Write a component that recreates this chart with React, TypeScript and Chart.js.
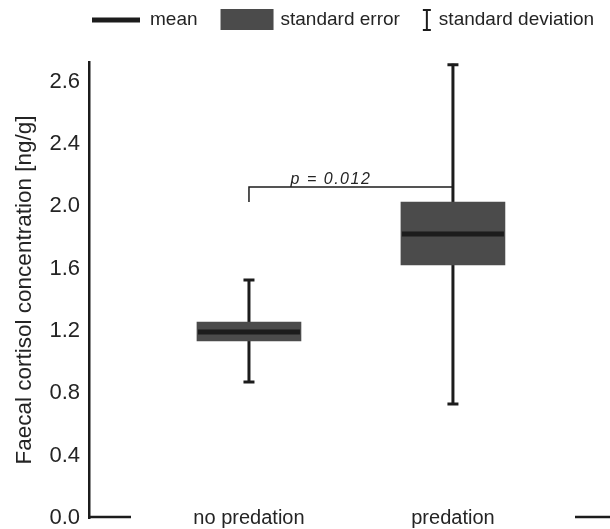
import React, { useEffect, useRef } from "react";
import { Chart, registerables } from "chart.js";
Chart.register(...registerables);

const categories = ["no predation", "predation"];
const categoryPositions = [1, 2];
const means = [1.194, 1.823];
const seLow = [1.136, 1.624];
const seHigh = [1.258, 2.028];
const sdLow = [0.867, 0.725];
const sdHigh = [1.534, 2.915];
const yTickValues = [0, 0.4, 0.8, 1.2, 1.6, 2.0, 2.4, 2.8];
const yTickLabels = ["0.0", "0.4", "0.8", "1.2", "1.6", "2.0", "2.4", "2.6"];
const legendLabels = ["mean", "standard error", "standard deviation"];
const pValueText = "p = 0.012";
const bracketLevel = 2.125;
const bracketLegEnd = 2.028;

const FONT = "'Liberation Sans', Arial, sans-serif";
const TEXT = "#242424";
const DARK = "#1c1c1c";
const BOX = "#4b4b4b";

const decorPlugin = {
  id: "decor",
  beforeDatasetsDraw(chart: any) {
    const ctx = chart.ctx;
    const xs = chart.scales.x;
    const ys = chart.scales.y;
    ctx.save();
    ctx.strokeStyle = DARK;
    ctx.lineWidth = 3;
    categoryPositions.forEach((xv, i) => {
      const x = xs.getPixelForValue(xv);
      const top = ys.getPixelForValue(sdHigh[i]);
      const bot = ys.getPixelForValue(sdLow[i]);
      ctx.beginPath();
      ctx.moveTo(x, top);
      ctx.lineTo(x, bot);
      ctx.stroke();
      ctx.beginPath();
      ctx.moveTo(x - 5.5, top + 1);
      ctx.lineTo(x + 5.5, top + 1);
      ctx.moveTo(x - 5.5, bot - 1);
      ctx.lineTo(x + 5.5, bot - 1);
      ctx.stroke();
    });
    // significance bracket
    const x1 = xs.getPixelForValue(categoryPositions[0]);
    const x2 = xs.getPixelForValue(categoryPositions[1]);
    const yb = ys.getPixelForValue(bracketLevel);
    const yl = ys.getPixelForValue(bracketLegEnd);
    ctx.lineWidth = 1.5;
    ctx.beginPath();
    ctx.moveTo(x1, yl);
    ctx.lineTo(x1, yb);
    ctx.lineTo(x2, yb);
    ctx.stroke();
    ctx.fillStyle = TEXT;
    ctx.font = `italic 16px ${FONT}`;
    (ctx as any).letterSpacing = "1.5px";
    ctx.textAlign = "center";
    ctx.textBaseline = "alphabetic";
    ctx.fillText(pValueText, (x1 + x2) / 2 - 20, yb - 3);
    ctx.restore();
  },
  afterDatasetsDraw(chart: any) {
    const ctx = chart.ctx;
    const xs = chart.scales.x;
    const ys = chart.scales.y;
    const area = chart.chartArea;
    ctx.save();
    ctx.fillStyle = DARK;
    categoryPositions.forEach((xv, i) => {
      const x = xs.getPixelForValue(xv);
      const y = ys.getPixelForValue(means[i]);
      ctx.fillRect(x - 51, y - 2.5, 102, 5);
    });
    // bottom axis fragments
    ctx.strokeStyle = DARK;
    ctx.lineWidth = 2.5;
    ctx.beginPath();
    ctx.moveTo(area.left, area.bottom - 1);
    ctx.lineTo(area.left + 42, area.bottom - 1);
    ctx.moveTo(area.right - 35, area.bottom - 1);
    ctx.lineTo(area.right, area.bottom - 1);
    ctx.stroke();
    // legend
    const cy = 20;
    ctx.font = `19px ${FONT}`;
    ctx.textBaseline = "middle";
    ctx.textAlign = "left";
    let x = 92;
    ctx.fillStyle = DARK;
    ctx.fillRect(x, cy - 2.5, 48, 5);
    x += 58;
    ctx.fillStyle = TEXT;
    ctx.fillText(legendLabels[0], x, cy);
    x += ctx.measureText(legendLabels[0]).width + 23;
    ctx.fillStyle = BOX;
    ctx.fillRect(x, 9, 53, 21);
    x += 60;
    ctx.fillStyle = TEXT;
    ctx.fillText(legendLabels[1], x, cy);
    x += ctx.measureText(legendLabels[1]).width + 23;
    ctx.strokeStyle = DARK;
    ctx.lineWidth = 2;
    ctx.beginPath();
    ctx.moveTo(x + 4, 9);
    ctx.lineTo(x + 4, 31);
    ctx.moveTo(x, 10);
    ctx.lineTo(x + 8, 10);
    ctx.moveTo(x, 30);
    ctx.lineTo(x + 8, 30);
    ctx.stroke();
    x += 16;
    ctx.fillStyle = TEXT;
    ctx.fillText(legendLabels[2], x, cy);
    ctx.restore();
  },
};

export default function App() {
  const ref = useRef<HTMLCanvasElement | null>(null);
  useEffect(() => {
    if (!ref.current) return;
    const chart = new Chart(ref.current, {
      type: "bar",
      data: {
        datasets: [
          {
            label: "standard error",
            data: categoryPositions.map((x, i) => ({ x, y: [seLow[i], seHigh[i]] })) as any,
            backgroundColor: BOX,
            borderWidth: 0,
            barThickness: 104,
          },
        ],
      },
      options: {
        animation: false,
        responsive: false,
        layout: { padding: { top: 62, left: 0, right: 0, bottom: 0 } },
        plugins: {
          legend: { display: false },
          tooltip: { enabled: false },
        },
        scales: {
          x: {
            type: "linear",
            min: 0.2157,
            max: 2.77,
            offset: false,
            grid: { display: false, drawTicks: false },
            border: { display: false },
            afterBuildTicks: (scale: any) => {
              scale.ticks = categoryPositions.map((v) => ({ value: v }));
            },
            afterFit: (scale: any) => {
              scale.height = 11;
              scale.paddingLeft = 0;
              scale.paddingRight = 0;
            },
            ticks: {
              autoSkip: false,
              maxRotation: 0,
              mirror: true,
              padding: -12.5,
              color: TEXT,
              font: { family: FONT, size: 20 },
              callback: (v: any) => categories[categoryPositions.indexOf(Number(v))] ?? "",
            },
          },
          y: {
            type: "linear",
            min: 0,
            max: 2.927,
            grid: { display: false, drawTicks: false },
            border: { display: true, color: DARK, width: 2.5 },
            afterBuildTicks: (scale: any) => {
              scale.ticks = yTickValues.map((v) => ({ value: v }));
            },
            afterFit: (scale: any) => {
              scale.width = 89;
              scale.paddingTop = 0;
              scale.paddingBottom = 0;
            },
            ticks: {
              padding: 9,
              color: TEXT,
              font: { family: FONT, size: 22 },
              callback: (_v: any, i: number) => yTickLabels[i],
            },
            title: {
              display: true,
              text: "Faecal cortisol concentration [ng/g]",
              color: TEXT,
              font: { family: FONT, size: 22.5 },
              padding: { top: 11, bottom: 0 },
            },
          },
        },
      },
      plugins: [decorPlugin],
    });
    return () => chart.destroy();
  }, []);
  return (
    <div style={{ position: "absolute", left: 0, top: 0, width: 610, height: 529, background: "#fff" }}>
      <canvas ref={ref} width={610} height={529} />
    </div>
  );
}
